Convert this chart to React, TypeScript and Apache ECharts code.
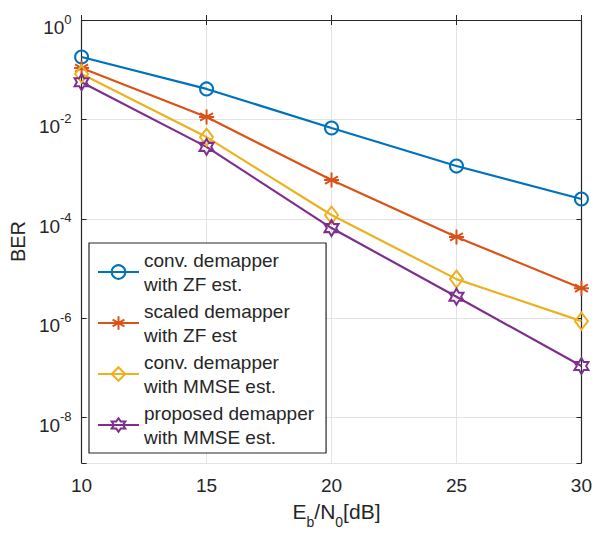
import React, { useEffect, useRef } from "react";
import * as echarts from "echarts";

const ebn0 = [10, 15, 20, 25, 30];
const seriesNames = [
  "conv. demapper\nwith ZF est.",
  "scaled demapper\nwith ZF est",
  "conv. demapper\nwith MMSE est.",
  "proposed demapper\nwith MMSE est.",
];
const berConvZF = [0.18, 0.041, 0.0067, 0.00115, 2.5e-4];
const berScaledZF = [0.108, 0.0112, 6.0e-4, 4.3e-5, 4.0e-6];
const berConvMMSE = [0.082, 0.0044, 1.19e-4, 6.1e-6, 8.7e-7];
const berPropMMSE = [0.056, 0.0028, 6.5e-5, 2.7e-6, 1.09e-7];
const xTicks = [10, 15, 20, 25, 30];
const yDecadeMax = 0;
const yDecadeMin = -8.915;

const FONT = "'Liberation Sans', Arial, Helvetica, sans-serif";
const TXT = "#262626";
const colors = ["#0072BD", "#D95319", "#EDB120", "#7E2F8E"];

const asteriskPath =
  "path://M0,-10L0,10M-8.66,-5L8.66,5M-8.66,5L8.66,-5M-10,0L10,0";
const hexagramPath =
  "path://M0,-10L2.887,-5L8.66,-5L5.774,0L8.66,5L2.887,5L0,10L-2.887,5L-8.66,5L-5.774,0L-8.66,-5L-2.887,-5Z";

const symbols: any[] = ["circle", asteriskPath, "diamond", hexagramPath];
const symbolSizes: any[] = [13, 15, [13, 17], [14, 16]];
const allData = [berConvZF, berScaledZF, berConvMMSE, berPropMMSE];

export default function App() {
  const ref = useRef<HTMLDivElement>(null);
  useEffect(() => {
    if (!ref.current) return;
    const chart = echarts.init(ref.current, undefined, { renderer: "svg" });
    const series = allData.map((vals, i) => ({
      name: seriesNames[i],
      type: "line",
      xAxisIndex: 0,
      yAxisIndex: 0,
      data: vals.map((v, j) => [ebn0[j], Math.log10(v)]),
      symbol: symbols[i],
      symbolSize: symbolSizes[i],
      showSymbol: true,
      lineStyle: { color: colors[i], width: 2.2 },
      itemStyle: { color: "none", borderColor: colors[i], borderWidth: 2 },
      emphasis: { disabled: true },
      z: 3,
    }));
    chart.setOption({
      animation: false,
      backgroundColor: "#fff",
      textStyle: { fontFamily: FONT, color: TXT },
      grid: { left: 77, right: 11, top: 20, bottom: 71, containLabel: false },
      legend: {
        orient: "vertical",
        left: 89,
        top: 243,
        itemWidth: 41,
        itemHeight: 17,
        itemGap: 3,
        padding: [5, 12, 4, 8],
        backgroundColor: "#fff",
        borderColor: TXT,
        borderWidth: 1.2,
        borderRadius: 0,
        selectedMode: false,
        textStyle: { fontSize: 19, lineHeight: 24, color: TXT, fontFamily: FONT },
        data: seriesNames,
      },
      xAxis: [
        {
          type: "value",
          min: xTicks[0],
          max: xTicks[xTicks.length - 1],
          interval: 5,
          position: "bottom",
          name: "{n|E}{s|b}{n|/N}{s|0}{n|[dB]}",
          nameLocation: "middle",
          nameGap: 30,
          nameTextStyle: {
            padding: [0, 0, 0, 10],
            rich: {
              n: { fontSize: 21, lineHeight: 36, color: TXT, fontFamily: FONT },
              s: { fontSize: 14, lineHeight: 6, verticalAlign: "bottom", color: TXT, fontFamily: FONT },
            },
          },
          axisLine: { show: true, lineStyle: { color: TXT, width: 1.2 } },
          axisTick: { show: true, inside: true, length: 5, lineStyle: { color: TXT } },
          axisLabel: { fontSize: 19, color: TXT, fontFamily: FONT, margin: 13 },
          splitLine: { show: true, lineStyle: { color: "#e3e3e3", width: 1 } },
        },
        {
          type: "value",
          min: xTicks[0],
          max: xTicks[xTicks.length - 1],
          interval: 5,
          position: "top",
          axisLine: { show: true, lineStyle: { color: TXT, width: 1.2 } },
          axisTick: { show: true, inside: true, length: 5, lineStyle: { color: TXT } },
          axisLabel: { show: false },
          splitLine: { show: false },
        },
      ],
      yAxis: [
        {
          type: "value",
          min: yDecadeMin,
          max: yDecadeMax,
          splitNumber: 5,
          position: "left",
          name: "BER",
          nameLocation: "middle",
          nameGap: 50,
          nameTextStyle: { fontSize: 20, color: TXT, fontFamily: FONT },
          axisLine: { show: true, lineStyle: { color: TXT, width: 1.2 } },
          axisTick: { show: true, inside: true, length: 5, lineStyle: { color: TXT } },
          axisLabel: {
            margin: 10,
            padding: [15, 0, 0, 0],
            formatter: (v: number) => {
              const r = Math.round(v);
              if (Math.abs(v - r) > 1e-6 || r % 2 !== 0) return "";
              return `{b|10}{e|${r === 0 ? 0 : r}}`;
            },
            rich: {
              b: { fontSize: 19, lineHeight: 30, color: TXT, fontFamily: FONT },
              e: { fontSize: 13, lineHeight: 10, verticalAlign: "top", color: TXT, fontFamily: FONT },
            },
          },
          splitLine: { show: true, lineStyle: { color: "#e3e3e3", width: 1 } },
        },
        {
          type: "value",
          min: yDecadeMin,
          max: yDecadeMax,
          splitNumber: 5,
          position: "right",
          axisLine: { show: true, lineStyle: { color: TXT, width: 1.2 } },
          axisTick: { show: true, inside: true, length: 5, lineStyle: { color: TXT } },
          axisLabel: { show: false },
          splitLine: { show: false },
        },
      ],
      series,
    });
    return () => chart.dispose();
  }, []);
  return <div ref={ref} style={{ width: 595, height: 534, position: "absolute", left: 0, top: 0 }} />;
}
